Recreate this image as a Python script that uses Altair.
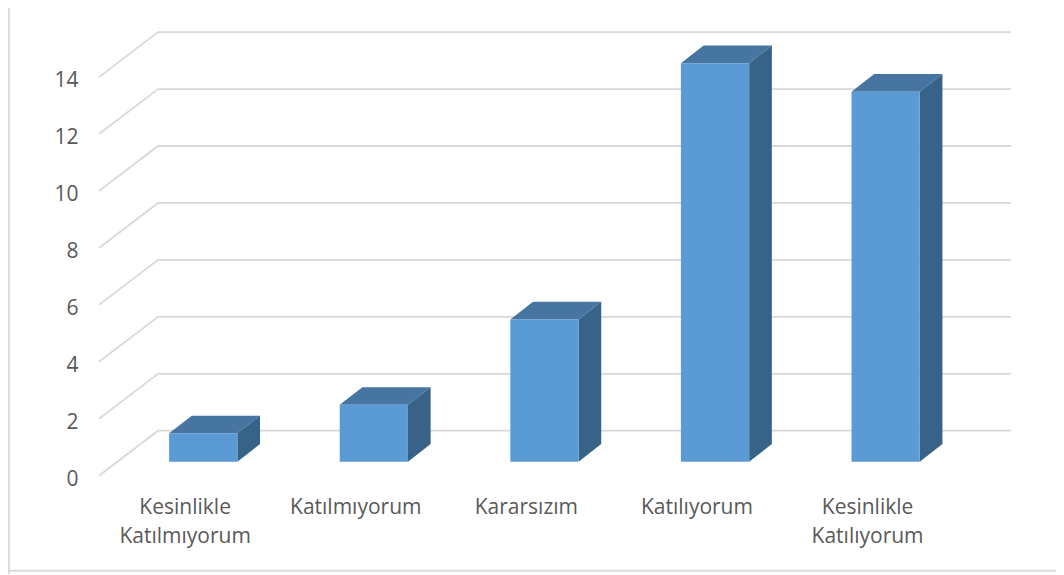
import altair as alt
import pandas as pd

categories = ["Kesinlikle\nKatılmıyorum", "Katılmıyorum", "Kararsızım", "Katılıyorum", "Kesinlikle\nKatılıyorum"]
values = [1, 2, 5, 14, 13]
grid_values = [0, 2, 4, 6, 8, 10, 12, 14]

# Oblique-projection parameters, in data units
WALL_DX, WALL_DY = 0.346, 1.58
BAR_LEFT, BAR_WIDTH = 0.411, 0.40
BAR_BASE, BAR_DX, BAR_DY = 0.49, 0.133, 0.62

PAD_LEFT = 82
W, H = 966, 566
PITCH, UNIT = 170.6, 28.47
x_dom = [-9 / PITCH, (W - 9) / PITCH]
y_dom = [-(H - 467.7) / UNIT, 467.7 / UNIT]
xs = alt.Scale(domain=x_dom, nice=False, zero=False)
ys = alt.Scale(domain=y_dom, nice=False, zero=False)

TEXT = "#595959"
GRID = "#D9D9D9"
FONT = "Open Sans"

y_axis = alt.Axis(values=grid_values, domain=False, ticks=False, grid=False, title=None,
                  labelFont=FONT, labelFontSize=21, labelColor=TEXT, labelPadding=12,
                  labelOffset=3.5, format="d")
X = lambda f: alt.X(f, type="quantitative", scale=xs, axis=None)
Y = lambda f: alt.Y(f, type="quantitative", scale=ys, axis=y_axis)

bars = pd.DataFrame({"i": range(5), "v": values, "c": categories})
bars["left"] = bars.i + BAR_LEFT
bars["right"] = bars.left + BAR_WIDTH
bars["base"] = BAR_BASE
bars["top"] = bars.v + BAR_BASE

# Side and top faces are parallelograms: two ends of an area each
side = pd.concat([
    pd.DataFrame({"g": bars.i, "x": bars.right, "y": bars.base, "y2": bars.top}),
    pd.DataFrame({"g": bars.i, "x": bars.right + BAR_DX, "y": bars.base + BAR_DY, "y2": bars.top + BAR_DY}),
])
top = pd.concat([
    pd.DataFrame({"g": bars.i, "y": bars.top, "x": bars.left, "x2": bars.right}),
    pd.DataFrame({"g": bars.i, "y": bars.top + BAR_DY, "x": bars.left + BAR_DX, "x2": bars.right + BAR_DX}),
])

grid = pd.DataFrame(
    [{"k": k, "x": x, "y": k + dy, "o": o}
     for k in grid_values
     for o, (x, dy) in enumerate([(0, 0), (WALL_DX, WALL_DY), (5 + WALL_DX, WALL_DY)])]
)

grid_layer = alt.Chart(grid).mark_line(color=GRID, strokeWidth=1.8).encode(
    x=X("x"), y=Y("y"), detail="k:N", order="o:Q",
)
side_layer = alt.Chart(side).mark_area(color="#386388", orient="vertical", opacity=1).encode(
    x=X("x"), y=Y("y"), y2="y2", detail="g:N"
)
top_layer = alt.Chart(top).mark_area(color="#4575A0", orient="horizontal", opacity=1).encode(
    y=Y("y"), x=X("x"), x2="x2", detail="g:N"
)
front_layer = alt.Chart(bars).mark_rect(color="#5B9BD5").encode(
    x=X("left"), x2="right", y=Y("base"), y2="top"
)
label_layer = alt.Chart(bars.assign(lx=bars.i + 0.505, ly=(467.7 + 8 - 497) / UNIT)).mark_text(
    font=FONT, fontSize=21, color=TEXT, lineBreak="\n", lineHeight=29, align="center", baseline="top"
).encode(x=X("lx"), y=Y("ly"), text="c:N")

frame_left = pd.DataFrame({"x": [(8.8 - 99) / PITCH], "y": [y_dom[0]], "y2": [y_dom[1]]})
frame_bottom = pd.DataFrame({"y": [(475.7 - 570.7) / UNIT], "x": [(8 - 99) / PITCH], "x2": [x_dom[1]]})
frame_v = alt.Chart(frame_left).mark_rule(color=GRID, strokeWidth=2).encode(x=X("x"), y=Y("y"), y2="y2")
frame_h = alt.Chart(frame_bottom).mark_rule(color=GRID, strokeWidth=2).encode(y=Y("y"), x=X("x"), x2="x2")

chart = alt.layer(
    frame_v, frame_h, grid_layer, top_layer, side_layer, front_layer, label_layer
).properties(
    width=W, height=H,
    padding={"left": PAD_LEFT, "top": 0, "right": 0, "bottom": 0},
    autosize=alt.AutoSizeParams(type="none"),
    background="white",
).configure_view(stroke=None)

chart.save("out.html", embed_options={"renderer": "svg", "actions": False})
